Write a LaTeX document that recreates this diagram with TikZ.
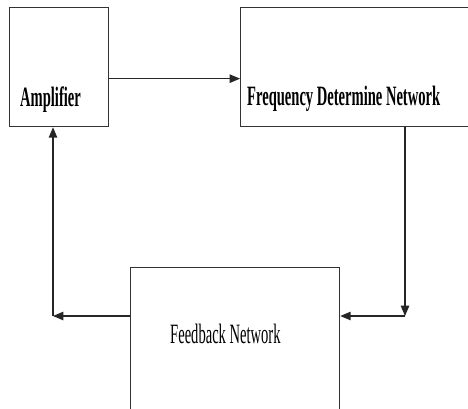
\documentclass[tikz,border=0pt]{standalone}
\usepackage{fontspec}
\setmainfont{Liberation Serif}
\usetikzlibrary{arrows}
\newcommand{\narrow}[1]{\scalebox{0.52}[1]{\fontsize{28}{30}\selectfont #1}}

\begin{document}
\begin{tikzpicture}[x=1pt, y=-1pt, >=triangle 45,
 block/.style={rectangle, draw=black!80, line width=1.3pt, inner sep=0pt, anchor=north west},
 label/.style={anchor=base west, inner sep=0pt},
 link/.style={->, draw=black!85, line width=1.4pt}]

 \clip (0,0) rectangle (468,408);

 \node[block, minimum width=99pt, minimum height=119pt] (amp) at (9,7) {};
 \node[block, minimum width=232pt, minimum height=119pt] (fdn) at (240,7) {};
 \node[block, minimum width=209pt, minimum height=142pt] (fb) at (130,267) {};

 \node[label] (amptext) at (20,106) {\narrow{\bfseries Amplifier}};
 \node[label] (fdntext) at (247,105) {\narrow{\bfseries Frequency Determine Network}};
 \node[label] (fbtext) at (170,343) {\narrow{Feedback Network}};

 \coordinate (rc) at (405,316);
 \coordinate (lc) at (53,316);

 \draw[link] ([yshift=-11.5pt]amp.east) -- ([yshift=-11.5pt]fdn.west);
 \draw[link] (fdn.south -| rc) -- (rc);
 \draw[link] (rc) -- (fb.east |- rc);
 \draw[link] (fb.west |- lc) -- (lc);
 \draw[link] (lc) -- (amp.south -| lc);
\end{tikzpicture}
\end{document}
